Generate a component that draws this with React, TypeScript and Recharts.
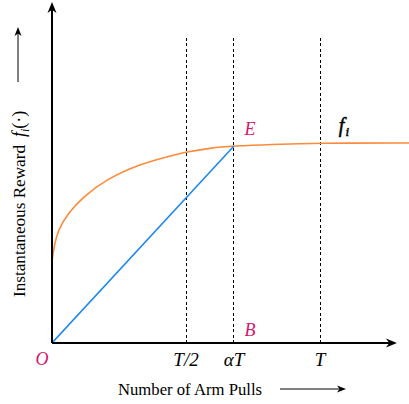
import React from 'react';
import { LineChart, Line, XAxis, YAxis, ReferenceLine, ReferenceDot } from 'recharts';

// orange reward curve f_i (T = 1, asymptote = 1)
const curveX = [0, 0.0075, 0.022, 0.06, 0.116, 0.198, 0.328, 0.44, 0.5, 0.59, 0.679, 0.813, 1.0, 1.332];
const curveY = [0.41, 0.48, 0.565, 0.65, 0.73, 0.815, 0.895, 0.935, 0.955, 0.975, 0.985, 0.993, 1.0, 1.0];

// blue straight line O -> E
const lineX = [0, 0.679];
const lineY = [0, 0.985];

const tickValues = [0.5, 0.679, 1];
const tickLabels = ['T/2', 'αT', 'T'];

const alpha = 0.679;
const dashTop = 1.525;
const xMax = 1.332;
const yMax = 1.705;
const xArrowEnd = 1.287;

const MAGENTA = '#d3166c';
const SERIF = '"Liberation Serif", "DejaVu Serif", serif';

const curveData = curveX.map((x, i) => ({ x, y: curveY[i] }));
const lineData = lineX.map((x, i) => ({ x, y: lineY[i] }));

const ArrowLine = (props: any) => {
  const { x1, y1, x2, y2 } = props;
  const ang = Math.atan2(y2 - y1, x2 - x1);
  const len = 11;
  const w = 4.5;
  const bx = x2 - len * Math.cos(ang);
  const by = y2 - len * Math.sin(ang);
  const nx = -Math.sin(ang);
  const ny = Math.cos(ang);
  const mx = x2 - len * 0.7 * Math.cos(ang);
  const my = y2 - len * 0.7 * Math.sin(ang);
  return (
    <g>
      <line x1={x1} y1={y1} x2={mx} y2={my} stroke="#000" strokeWidth={2} />
      <path
        d={`M${x2},${y2} L${bx + nx * w},${by + ny * w} L${mx},${my} L${bx - nx * w},${by - ny * w} Z`}
        fill="#000"
      />
    </g>
  );
};

const XTick = (props: any) => {
  const { x, y, payload } = props;
  const idx = tickValues.indexOf(payload.value);
  return (
    <text x={x} y={y} dy={15} textAnchor="middle" fontFamily={SERIF} fontStyle="italic" fontSize={19} fill="#000">
      {tickLabels[idx]}
    </text>
  );
};

const pointLabel = (text: string, dx: number, dy: number, color: string) => (p: any) => {
  const vb = p.viewBox;
  return (
    <text
      x={vb.x + dx}
      y={vb.y + dy}
      textAnchor="middle"
      fontFamily={SERIF}
      fontStyle="italic"
      fontSize={18}
      fill={color}
    >
      {text}
    </text>
  );
};

const fiLabel = (p: any) => {
  const vb = p.viewBox;
  return (
    <text
      x={vb.x - 7}
      y={vb.y - 10}
      fontFamily={SERIF}
      fontStyle="italic"
      fontSize={20}
      fill="#000"
      stroke="#000"
      strokeWidth={0.5}
    >
      f
      <tspan fontSize={13} dy={4} dx={1}>i</tspan>
    </text>
  );
};

export default function App() {
  return (
    <div style={{ position: 'absolute', left: 0, top: 0, width: 409, height: 404, background: '#fff' }}>
      <LineChart width={409} height={404} margin={{ top: 2, right: 0, left: 52, bottom: 0 }}>
        <XAxis
          type="number"
          dataKey="x"
          domain={[0, xMax]}
          ticks={tickValues}
          tick={<XTick />}
          axisLine={false}
          tickLine={false}
          height={61}
          allowDataOverflow
        />
        <YAxis type="number" dataKey="y" domain={[0, yMax]} hide allowDataOverflow />

        {tickValues.map((t) => (
          <ReferenceLine
            key={t}
            segment={[{ x: t, y: 0 }, { x: t, y: dashTop }]}
            stroke="#000"
            strokeWidth={1}
            strokeDasharray="3 2.5"
            shapeRendering="crispEdges"
            ifOverflow="visible"
          />
        ))}

        <Line
          data={curveData}
          dataKey="y"
          type="basis"
          stroke="#fd8a3a"
          strokeWidth={1.6}
          dot={false}
          isAnimationActive={false}
        />
        <Line
          data={lineData}
          dataKey="y"
          type="linear"
          stroke="#1e88f0"
          strokeWidth={1.6}
          dot={false}
          isAnimationActive={false}
        />

        <ReferenceLine
          segment={[{ x: 0, y: 0 }, { x: xArrowEnd, y: 0 }]}
          shape={ArrowLine}
          ifOverflow="visible"
        />
        <ReferenceLine
          segment={[{ x: 0, y: 0 }, { x: 0, y: yMax }]}
          shape={ArrowLine}
          ifOverflow="visible"
        />

        <ReferenceDot x={0} y={0} r={1} fill="none" stroke="none" ifOverflow="visible" label={pointLabel('O', -9, 23, MAGENTA)} />
        <ReferenceDot x={alpha} y={0} r={1} fill="none" stroke="none" ifOverflow="visible" label={pointLabel('B', 17, -6, MAGENTA)} />
        <ReferenceDot x={alpha} y={0.985} r={1} fill="none" stroke="none" ifOverflow="visible" label={pointLabel('E', 17, -10, MAGENTA)} />
        <ReferenceDot x={1.1} y={1.0} r={1} fill="none" stroke="none" ifOverflow="visible" label={fiLabel} />

        {/* axis titles */}
        <text x={190} y={395} textAnchor="middle" fontFamily={SERIF} fontSize={16} textLength={144} lengthAdjust="spacingAndGlyphs" fill="#000">
          Number of Arm Pulls
        </text>
        <line x1={280} y1={389} x2={343} y2={389} stroke="#000" strokeWidth={1} />
        <path d="M346,389 L337,385.5 L339.5,389 L337,392.5 Z" fill="#000" />

        <text transform="translate(25,221) rotate(-90)" textAnchor="middle" fontFamily={SERIF} fontSize={16} textLength={152} lengthAdjust="spacingAndGlyphs" fill="#000">
          Instantaneous Reward
        </text>
        <text transform="translate(25,137) rotate(-90)" fontFamily={SERIF} fontSize={18} fill="#000">
          <tspan fontStyle="italic">f</tspan>
          <tspan fontStyle="italic" fontSize={12} dy={4}>i</tspan>
          <tspan dy={-4}>(·)</tspan>
        </text>
        <line x1={18} y1={82} x2={18} y2={30} stroke="#000" strokeWidth={1} />
        <path d="M18,27 L14.5,36 L18,33.5 L21.5,36 Z" fill="#000" />
      </LineChart>
    </div>
  );
}
